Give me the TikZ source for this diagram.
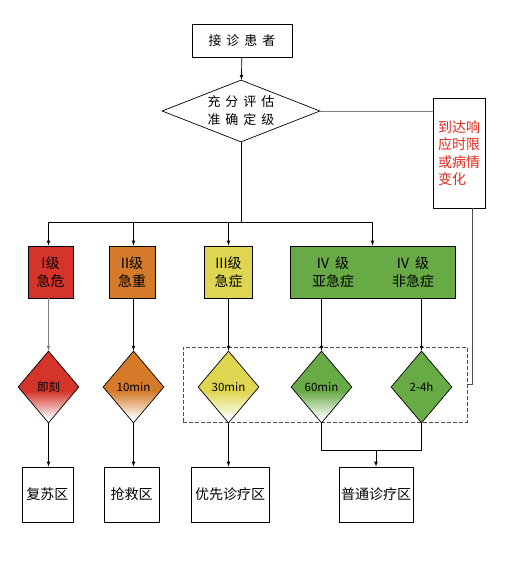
\documentclass[tikz,border=0pt]{standalone}
\usepackage{fontspec}
\setmainfont{Noto Sans CJK SC}
\usetikzlibrary{arrows}
\usetikzlibrary{shapes.geometric}
\definecolor{lvred}{RGB}{212, 52, 42}
\definecolor{lvorange}{RGB}{212, 122, 40}
\definecolor{lvyellow}{RGB}{222, 214, 80}
\definecolor{lvgreen}{RGB}{104, 170, 70}
\definecolor{tred}{RGB}{232, 40, 28}
\tikzset{
  box/.style = {draw, line width = 0.8, inner sep = 0, align = center},
  lvbox/.style = {box, fill = #1, minimum height = 52, font = \fontsize{14}{18}\selectfont},
  gate/.style = {draw, diamond, aspect = 0.85, inner sep = 0, line width = 0.7,
    minimum width = 61, minimum height = 72, font = \fontsize{11.5}{13}\selectfont,
    path picture = {
      \fill [#1] (path picture bounding box.north west) rectangle ([yshift = -4pt]path picture bounding box.east);
      \shade [top color = #1, bottom color = white]
        ([yshift = -4pt]path picture bounding box.west) rectangle ([yshift = 4pt]path picture bounding box.south east);
    }},
  zone/.style = {box, minimum height = 55, font = \fontsize{14}{16}\selectfont},
  arr/.style = {-latex, line width = 0.7}
}

\begin{document}
\begin{tikzpicture}[x = 1pt, y = -1pt]
    \useasboundingbox (0, 0) rectangle (513, 565);
    % top of the chart
    \node [box, minimum width = 100, minimum height = 33, font = \fontsize{13}{15}\selectfont]
      (patient) at (242, 40.5) {接\hspace{5pt}诊\hspace{5pt}患\hspace{5pt}者};
    \node [draw, diamond, aspect = 2.5, inner sep = 0, line width = 0.7, align = center,
      minimum width = 158, minimum height = 62, font = \fontsize{13}{18}\selectfont]
      (assess) at (241, 111) {充\hspace{5pt}分\hspace{5pt}评\hspace{5pt}估\\准\hspace{5pt}确\hspace{5pt}定\hspace{5pt}级};
    \node [box, align = left, minimum width = 52, minimum height = 110, text = tred,
      font = \fontsize{14}{17.5}\selectfont] (resp) at (459, 153) {到达响\\应时限\\或病情\\变化};
    \coordinate (split) at (241, 222);
    % levels
    \node [lvbox = lvred, minimum width = 45] (lv1) at (50.5, 272) {I级\\急危};
    \node [lvbox = lvorange, minimum width = 46] (lv2) at (132, 272) {II级\\急重};
    \node [lvbox = lvyellow, minimum width = 48] (lv3) at (228.5, 272) {III级\\急症};
    \node [lvbox = lvgreen, minimum width = 165] (lv4) at (372.5, 272) {};
    \node [align = center, font = \fontsize{14}{18}\selectfont] (lv4a) at (333, 272) {IV\hspace{6pt}级\\亚急症};
    \node [align = center, font = \fontsize{14}{18}\selectfont] (lv4b) at (413, 272) {IV\hspace{6pt}级\\非急症};
    % response times
    \node [draw = black!70, dash pattern = on 4pt off 2pt, line width = 0.7,
      minimum width = 284, minimum height = 75] (wait) at (325, 384.5) {};
    \node [gate = lvred] (d1) at (48.5, 387) {即刻};
    \node [gate = lvorange] (d2) at (133.5, 387) {10min};
    \node [gate = lvyellow] (d3) at (228.5, 387) {30min};
    \node [gate = lvgreen] (d4) at (321.5, 387) {60min};
    \node [draw, diamond, aspect = 0.85, inner sep = 0, line width = 0.7, fill = lvgreen,
      minimum width = 61, minimum height = 72, font = \fontsize{11.5}{13}\selectfont] (d5) at (421.5, 387) {2-4h};
    % zones
    \node [zone, minimum width = 51] (z1) at (47.5, 494.5) {复苏区};
    \node [zone, minimum width = 55] (z2) at (131.5, 494.5) {抢救区};
    \node [zone, minimum width = 78] (z3) at (230, 494.5) {优先诊疗区};
    \node [zone, minimum width = 74] (z4) at (376, 494.5) {普通诊疗区};
    \coordinate (merge) at (376, 450);
    % connectors
    \draw [arr] (patient) -- (assess);
    \draw [line width = 0.7] (assess.south) -- (split);
    \draw [line width = 0.7] (split -| d1.north) -- (split -| lv4.north);
    \foreach \d/\l in {d1/lv1, d2/lv2, d3/lv3}{
      \draw [arr] (split -| \d.north) -- (\d.north |- \l.north);
    }
    \draw [arr] (split -| lv4.north) -- (lv4.north);
    \draw [arr, gray] (d1.north |- lv1.south) -- (d1.north);
    \foreach \d/\l in {d2/lv2, d3/lv3, d4/lv4, d5/lv4}{
      \draw [arr] (\d.north |- \l.south) -- (\d.north);
    }
    \draw [gray, line width = 0.7] (assess.east) -- (assess.east -| resp.west);
    \draw [black!70, line width = 0.7] ([xshift = 13pt]resp.south) |- (wait.east);
    \foreach \d/\z in {d1/z1, d2/z2, d3/z3}{
      \draw [arr] (\d.south) -- (\d.south |- \z.north);
    }
    \draw [line width = 0.7] (d4.south) |- (d5.south |- merge) -- (d5.south);
    \draw [arr] (merge) -- (z4.north);
\end{tikzpicture}
\end{document}
